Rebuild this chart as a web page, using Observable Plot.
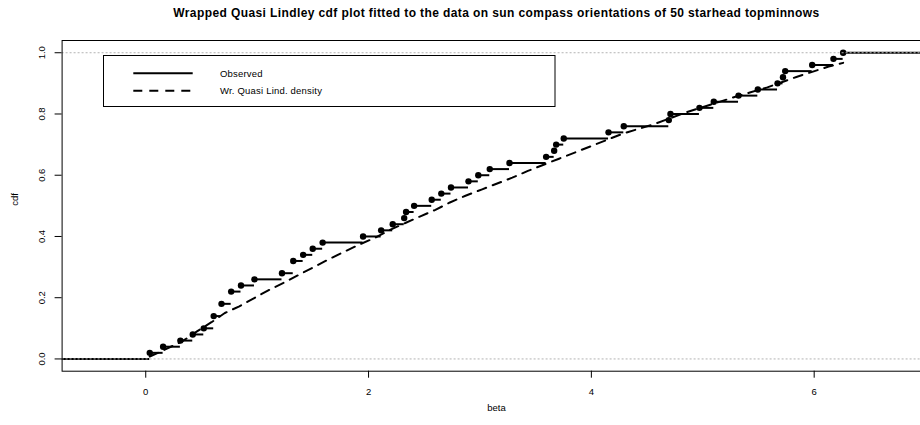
<!DOCTYPE html>
<html><head><meta charset="utf-8">
<script src="https://cdn.jsdelivr.net/npm/d3@7"></script>
<script src="https://cdn.jsdelivr.net/npm/@observablehq/plot@0.6"></script>
<style>
html,body{margin:0;padding:0;overflow:hidden;background:#fff;}
#chart{width:960px;}
#chart svg{display:block;max-width:none !important;width:960px !important;height:425px !important;}
</style></head><body><div id="chart"></div>
<script>
// Observed sun compass orientations (radians), 50 starhead topminnows (ties repeated)
const beta = [0.036, 0.156, 0.311, 0.422, 0.521, 0.610, 0.610, 0.680, 0.680, 0.767,
  0.767, 0.855, 0.976, 1.223, 1.324, 1.324, 1.413, 1.499, 1.588, 1.951,
  2.113, 2.217, 2.320, 2.337, 2.409, 2.567, 2.653, 2.740, 2.897, 2.985,
  3.088, 3.265, 3.594, 3.666, 3.684, 3.752, 4.154, 4.291, 4.695, 4.710,
  4.970, 5.099, 5.321, 5.494, 5.671, 5.720, 5.740, 5.982, 6.173, 6.260];

// Fitted wrapped quasi Lindley cdf
const fitBeta = [0.036, 0.11, 0.33, 0.46, 0.59, 0.71, 0.84, 0.97, 1.10, 1.24, 1.37, 1.51,
  1.64, 1.78, 1.92, 2.06, 2.19, 2.33, 2.46, 2.60, 2.73, 2.87, 3.02, 3.29, 3.43, 3.71,
  3.99, 4.27, 4.41, 4.55, 4.84, 5.30, 5.43, 5.58, 5.84, 6.13, 6.26];
const fitCdf = [0.008, 0.020, 0.058, 0.090, 0.120, 0.150, 0.172, 0.198, 0.224, 0.249, 0.274, 0.300,
  0.325, 0.350, 0.374, 0.396, 0.421, 0.444, 0.465, 0.487, 0.511, 0.533, 0.554, 0.592, 0.614, 0.654,
  0.694, 0.734, 0.750, 0.765, 0.804, 0.857, 0.871, 0.887, 0.921, 0.955, 0.967];

const xTicks = [0, 2, 4, 6];
const yTicks = [0, 0.2, 0.4, 0.6, 0.8, 1.0];
const refLines = [0, 1];
const titleText = "Wrapped Quasi Lindley cdf plot fitted to the data on sun compass orientations of 50 starhead topminnows";
const xLabel = "beta";
const yLabel = "cdf";
const legendLabels = ["Observed", "Wr. Quasi Lind. density"];

// ECDF
const n = beta.length;
const knots = Array.from(new Set(beta)).sort((a, b) => a - b);
const ecdf = knots.map(k => ({x: k, F: beta.filter(b => b <= k).length / n}));

// x limits as R's plot.stepfun does, plus 4% axis extension
const rx = d3.extent(knots);
const diffs = knots.slice(1).map((k, i) => k - knots[i]);
const dr = Math.max(0.08 * (rx[1] - rx[0]), d3.median(diffs));
const xl = [rx[0] - dr, rx[1] + dr];
const ext = 0.04 * (xl[1] - xl[0]);
const xDomain = [xl[0] - ext, xl[1] + ext];
const yDomain = [-0.04, 1.04];

const segments = [{x1: xDomain[0], x2: knots[0], y: 0}]
  .concat(ecdf.map((d, i) => ({x1: d.x, x2: i + 1 < ecdf.length ? ecdf[i + 1].x : xDomain[1], y: d.F})));
const fit = fitBeta.map((b, i) => ({x: b, y: fitCdf[i]}));

const W = 960, H = 425;
const font = "'Liberation Sans', Arial, Helvetica, sans-serif";

const plot = Plot.plot({
  width: W, height: H,
  marginLeft: 61.6, marginRight: W - 930.3, marginTop: 40, marginBottom: H - 370.7,
  style: {fontFamily: font, fontSize: "9.5px", background: "white", color: "black", overflow: "visible", maxWidth: "none"},
  x: {domain: xDomain},
  y: {domain: yDomain},
  marks: [
    Plot.axisX({ticks: xTicks, tickSize: 7, tickFormat: () => "", label: null, strokeWidth: 1}),
    Plot.axisY({ticks: yTicks, tickSize: 7, tickFormat: () => "", label: null, strokeWidth: 1}),
    Plot.text(xTicks, {x: d => d, text: d => String(d), frameAnchor: "bottom", dy: 21, lineAnchor: "middle", fontSize: 9.5}),
    Plot.text(yTicks, {y: d => d, text: d => d3.format(".1f")(d), frameAnchor: "left", dx: -20, rotate: -90, lineAnchor: "middle", textAnchor: "middle", fontSize: 9.5}),
    Plot.text([xLabel], {text: d => d, frameAnchor: "bottom", dy: 36.5, lineAnchor: "middle", fontSize: 9.5}),
    Plot.text([yLabel], {text: d => d, frameAnchor: "left", dx: -47.6, rotate: -90, lineAnchor: "middle", fontSize: 9.5}),
    Plot.text([titleText], {text: d => d, frameAnchor: "top", dy: -27, lineAnchor: "middle", fontWeight: "bold", fontSize: 12, className: "main-title"}),
    Plot.line(fit, {x: "x", y: "y", stroke: "black", strokeWidth: 2, strokeDasharray: "9,7"}),
    Plot.ruleY(segments, {x1: "x1", x2: "x2", y: "y", stroke: "black", strokeWidth: 2}),
    Plot.dot(ecdf, {x: "x", y: "F", r: 3.2, fill: "black", stroke: "none"}),
    Plot.ruleY(refLines, {stroke: "#b3b3b3", strokeWidth: 1, strokeDasharray: "2,2"}),
    Plot.frame({stroke: "black", strokeWidth: 1})
  ]
});

// slight tracking on the title, as in the reference rendering
d3.select(plot).selectAll(".main-title text").attr("letter-spacing", "0.4px");

// Legend box (inside plot region, as in the reference)
const svg = d3.select(plot);
const lg = svg.append("g").attr("font-family", font).attr("font-size", 9.5).attr("text-anchor", "start");
lg.append("rect").attr("x", 103.5).attr("y", 55.5).attr("width", 451.5).attr("height", 51)
  .attr("fill", "white").attr("stroke", "black").attr("stroke-width", 1);
const rows = [
  {label: legendLabels[0], dash: null, y: 73.3},
  {label: legendLabels[1], dash: "9,7", y: 90.7}
];
rows.forEach(r => {
  lg.append("line").attr("x1", 133.3).attr("x2", 192.7).attr("y1", r.y).attr("y2", r.y)
    .attr("stroke", "black").attr("stroke-width", 2).attr("stroke-dasharray", r.dash);
  lg.append("text").attr("x", 220).attr("y", r.y).attr("dy", "0.35em")
    .attr("text-anchor", "start").attr("letter-spacing", "0.2px").attr("fill", "black").text(r.label);
});

document.getElementById("chart").appendChild(plot);
</script></body></html>
